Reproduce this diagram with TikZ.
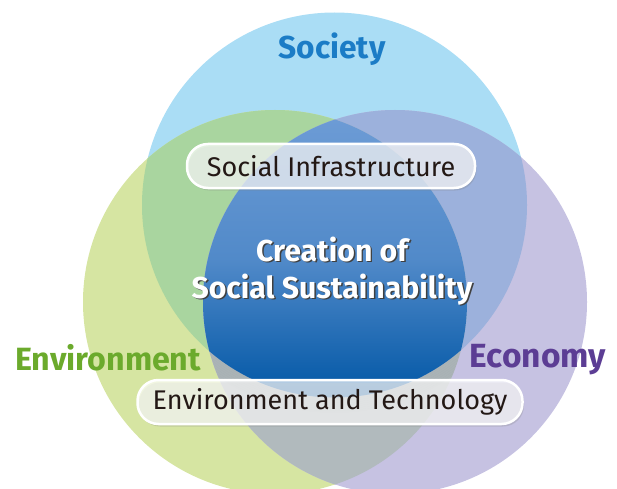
\documentclass[tikz,border=0pt]{standalone}
\usepackage{fontspec}
\usepackage{xcolor}
\usepackage{tikz}
\usetikzlibrary{shadows}
\newfontfamily\vennfont{Fira Sans}
\definecolor{socfill}{RGB}{170,221,245}
\definecolor{envfill}{RGB}{214,229,162}
\definecolor{ecofill}{RGB}{198,194,226}
\definecolor{socenv}{RGB}{169,213,159}
\definecolor{soceco}{RGB}{156,177,220}
\definecolor{enveco}{RGB}{177,186,189}
\definecolor{coretop}{RGB}{108,155,213}
\definecolor{corebot}{RGB}{0,86,165}
\definecolor{socink}{RGB}{27,124,198}
\definecolor{envink}{RGB}{107,170,44}
\definecolor{ecoink}{RGB}{92,61,148}
\definecolor{boxink}{RGB}{35,24,21}
% white text with a dark shadow behind it
\newcommand\shadowed[1]{\rlap{\hspace{1.5pt}\raisebox{-1.5pt}{\textcolor{black!75}{#1}}}#1}

\begin{document}
\begin{tikzpicture}[
  x=1pt,y=1pt,
  heading/.style={font=\vennfont\bfseries\fontsize{#1}{#1}\selectfont},
  pill/.style={draw=white,line width=2.5pt,rounded corners=21pt,
    fill=white,fill opacity=0.68,text opacity=1,minimum height=44pt,
    text=boxink,font=\vennfont\fontsize{27}{27}\selectfont,
    drop shadow={opacity=0.25,shadow xshift=1.5pt,shadow yshift=-2.5pt}},
  coretext/.style={align=center,text=white,
    font=\vennfont\bfseries\fontsize{30.2}{37}\selectfont}
]
\useasboundingbox (0,0) rectangle (617,488);
% circle centres
\coordinate (socc) at (334.5,283);
\coordinate (envc) at (275,186);
\coordinate (ecoc) at (395,186);
% single circles
\fill[socfill] (socc) circle (192.5);
\fill[envfill] (envc) circle (192);
\fill[ecofill] (ecoc) circle (192);
% pairwise overlaps
\begin{scope}
  \clip (socc) circle (192.5);
  \fill[socenv] (envc) circle (192);
  \fill[soceco] (ecoc) circle (192);
\end{scope}
\begin{scope}
  \clip (envc) circle (192);
  \clip (ecoc) circle (192);
  \fill[enveco] (socc) ++(-300,-300) rectangle ++(600,600);
  \fill[soceco!70!enveco] (socc) circle (192.5);
  % soft shade below the centre
  \foreach \r in {193,195,...,207}
    \draw[black,opacity=0.035,line width=2pt] (socc) circle (\r);
\end{scope}
% centre of all three
\begin{scope}
  \clip (socc) circle (192.5);
  \clip (envc) circle (192);
  \clip (ecoc) circle (192);
  \shade[top color=coretop,bottom color=corebot,middle color=coretop!75!corebot]
    (190,90) rectangle (480,368);
\end{scope}
% labels
\node[heading=31.7,text=socink] (society) at (332,439) {Society};
\node[heading=32.2,text=envink] (environment) at (108,130) {Environment};
\node[heading=33.5,text=ecoink] (economy) at (538,128) {Economy};
\node[pill,minimum width=288pt] (infra) at (331,322) {Social Infrastructure};
\node[pill,minimum width=385pt] (envtech) at (330,86) {Environment and Technology};
\node[coretext] (core) at (332,216.5) {\shadowed{Creation of}\\\shadowed{Social Sustainability}};
\end{tikzpicture}
\end{document}
